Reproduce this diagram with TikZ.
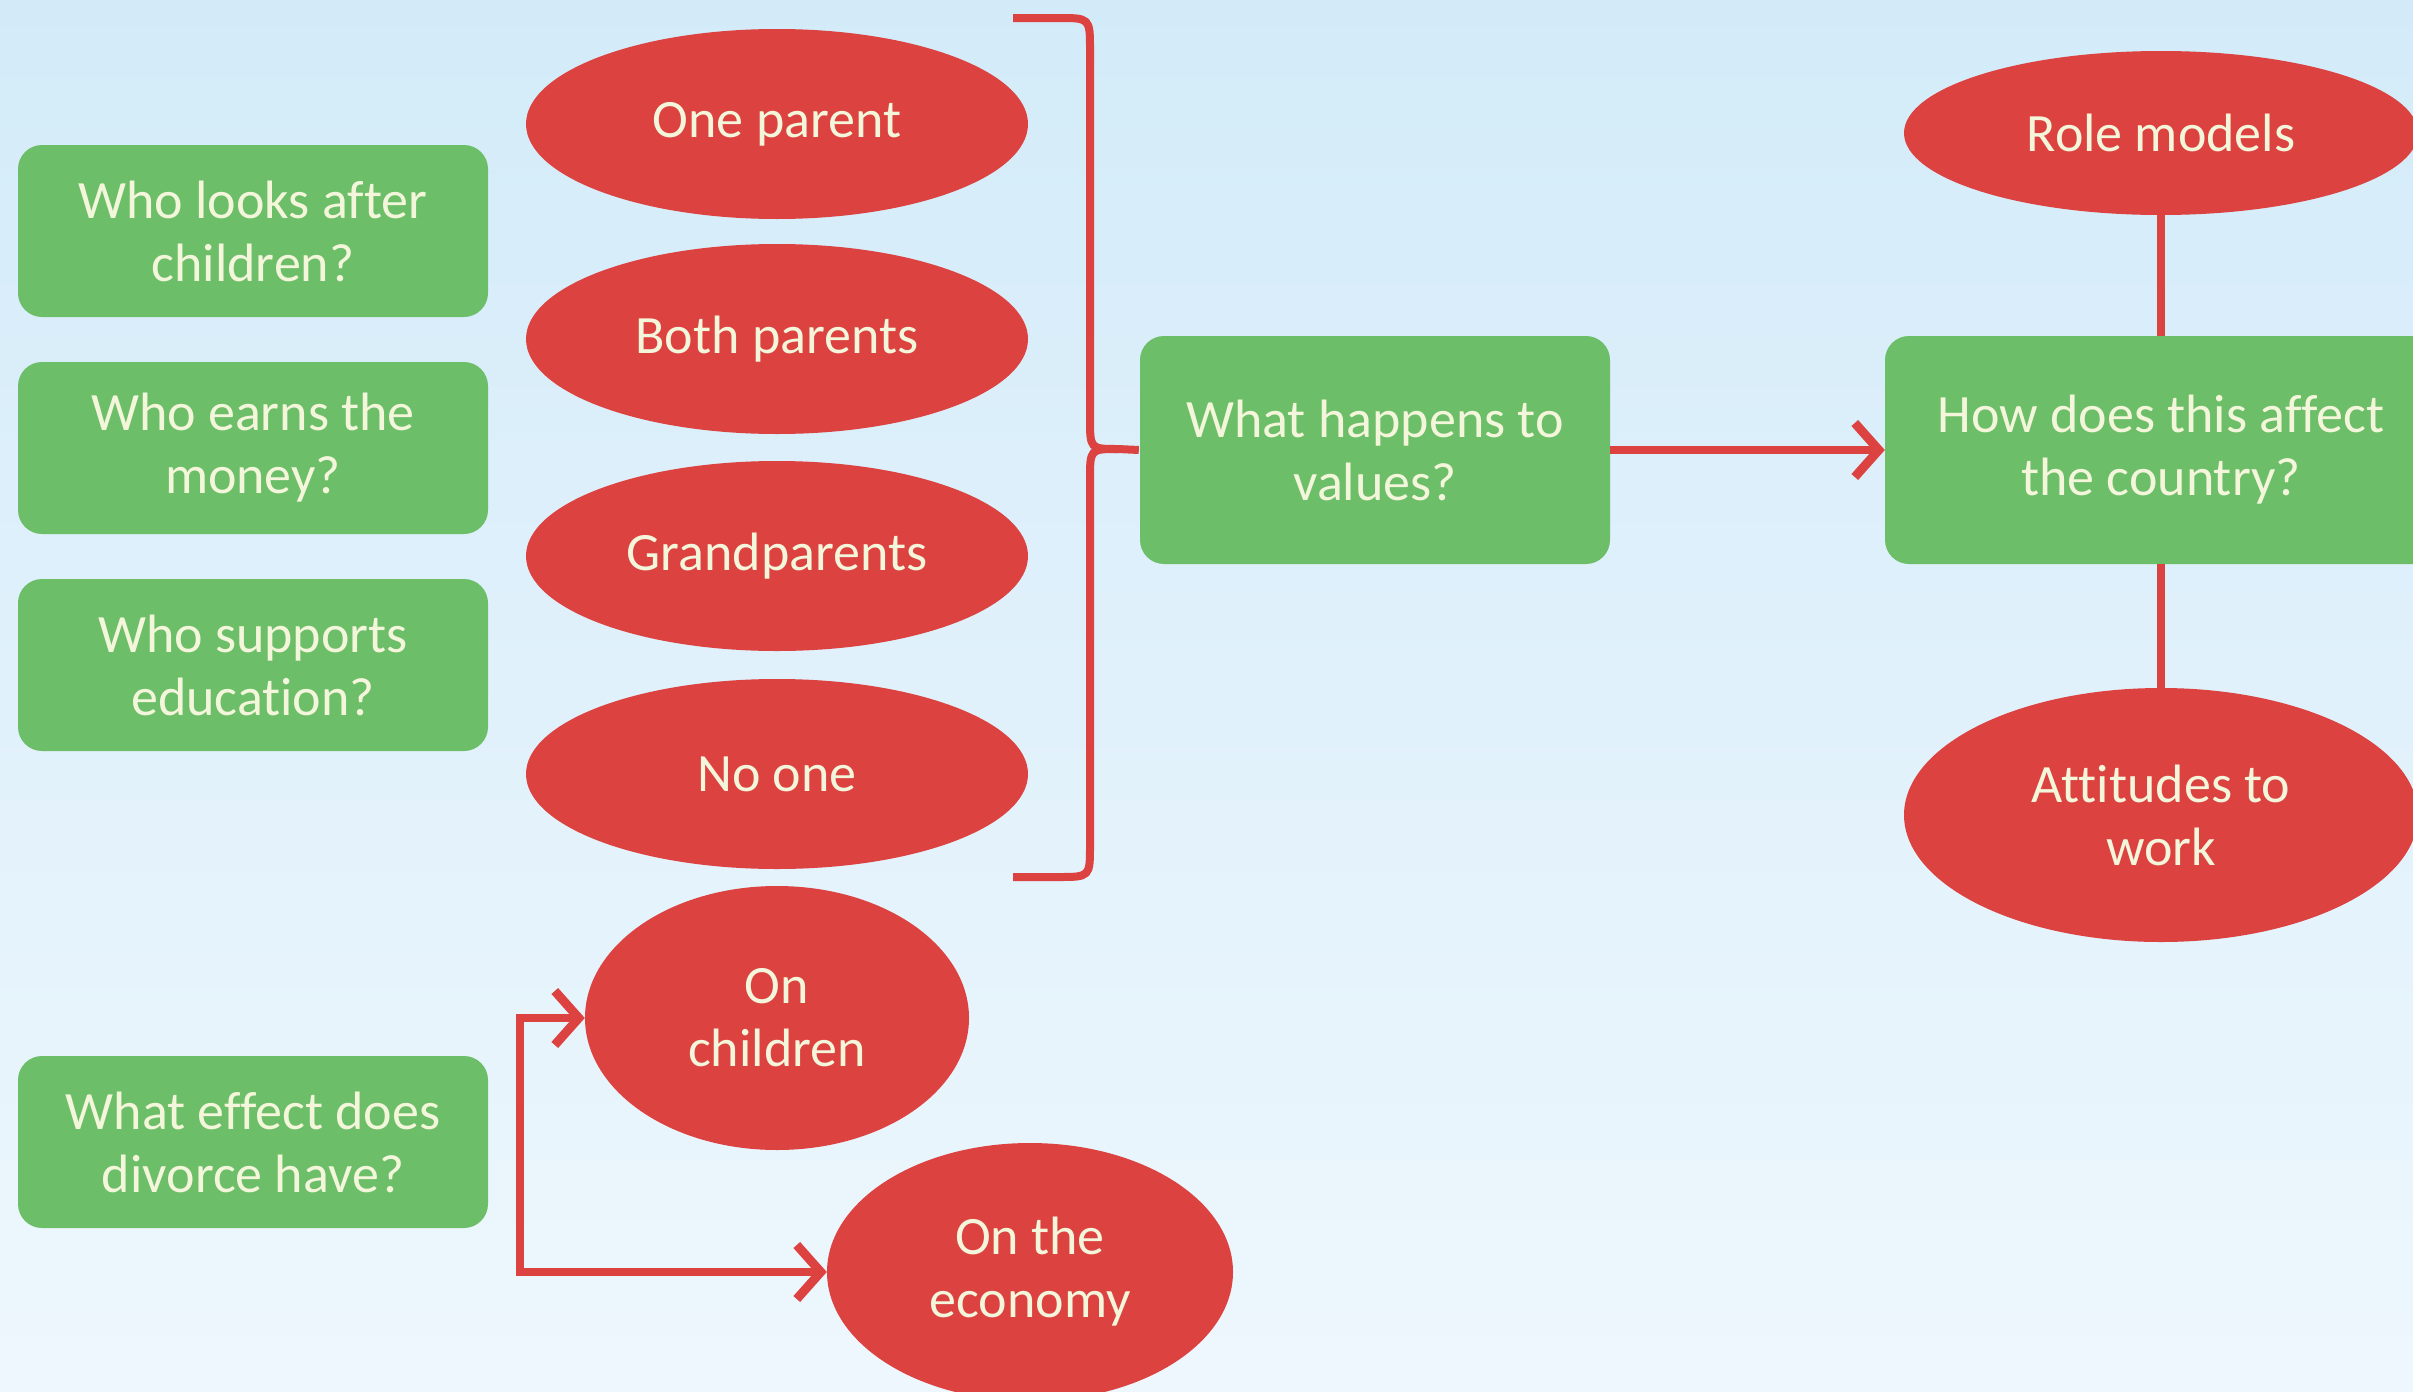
\documentclass[tikz,border=0pt]{standalone}
\usepackage{fontspec}
\setmainfont[Ligatures=NoCommon]{Carlito}
\usetikzlibrary{shapes.geometric,arrows.meta}
\definecolor{bgtop}{RGB}{211,235,249}
\definecolor{bgbot}{RGB}{238,247,253}
\definecolor{boxgreen}{RGB}{108,190,104}
\definecolor{ovalred}{RGB}{220,66,64}
\definecolor{labeltext}{RGB}{243,246,218}
\tikzset{
  qbox/.style={rectangle, rounded corners=24pt, fill=boxgreen, draw=none,
    minimum width=470pt, inner sep=0pt, align=center, text=labeltext,
    font=\fontsize{54}{63}\selectfont},
  oval/.style={ellipse, fill=ovalred, draw=none, inner sep=0pt, align=center,
    text=labeltext, font=\fontsize{54}{63}\selectfont},
  link/.style={draw=ovalred, line width=8pt},
  barbtip/.tip={Straight Barb[length=24pt,width=54pt,line width=9pt]},
  barb/.style={link, -barbtip},
  twobarb/.style={link, barbtip-barbtip},
}
\begin{document}
\begin{tikzpicture}[x=1pt,y=-1pt]
  \useasboundingbox (0,0) rectangle (2413,1392);
  \clip (0,0) rectangle (2413,1392);
  \shade[top color=bgtop, bottom color=bgbot] (0,0) rectangle (2413,1392);

  % question boxes on the left
  \node[qbox, minimum height=172pt] (q1) at (253,231) {Who looks after\\children?};
  \node[qbox, minimum height=172pt] (q2) at (253,448) {Who earns the\\money?};
  \node[qbox, minimum height=172pt] (q3) at (253,665) {Who supports\\education?};
  \node[qbox, minimum height=172pt] (q4) at (253,1142) {What effect does\\divorce have?};

  % carers
  \node[oval, minimum width=502pt, minimum height=190pt] (o1) at (777,124) {One parent};
  \node[oval, minimum width=502pt, minimum height=190pt] (o2) at (777,339) {Both parents};
  \node[oval, minimum width=502pt, minimum height=190pt] (o3) at (777,556) {Grandparents};
  \node[oval, minimum width=502pt, minimum height=190pt] (o4) at (777,774) {No one};

  % central questions
  \node[qbox, minimum height=228pt] (vals) at (1375,450) {What happens to\\values?};
  \node[qbox, minimum height=228pt, minimum width=552pt] (ctry) at (2161,450) {How does this affect\\the country?};

  % effects on the country
  \node[oval, minimum width=514pt, minimum height=164pt] (role) at (2161,133) {Role models};
  \node[oval, minimum width=514pt, minimum height=254pt] (work) at (2161,815) {Attitudes to\\work};

  % effects of divorce
  \node[oval, minimum width=384pt, minimum height=264pt] (kids) at (777,1018) {On\\children};
  \node[oval, minimum width=406pt, minimum height=258pt] (econ) at (1030,1272) {On the\\economy};

  % brace gathering the carers
  \coordinate (tip) at ([xshift=-1pt]vals.west);
  \draw[link, line cap=butt]
    (1013,18) -- (1058,18) .. controls (1090,18) .. (1090,50)
    -- (1090,418) .. controls (1090,449) .. (1118,449) -- (tip);
  \draw[link, line cap=butt]
    (1013,877) -- (1058,877) .. controls (1090,877) .. (1090,845)
    -- (1090,480) .. controls (1090,449) .. (1118,449);

  % connectors
  \draw[barb] (vals.east) -- (ctry.west);
  \draw[link] (role.south) -- (ctry.north);
  \draw[link] (ctry.south) -- (work.north);
  \coordinate (elb) at (520,1140);
  \draw[twobarb] (kids.west) -- (kids.west -| elb) -- (econ.west -| elb) -- (econ.west);
\end{tikzpicture}
\end{document}
